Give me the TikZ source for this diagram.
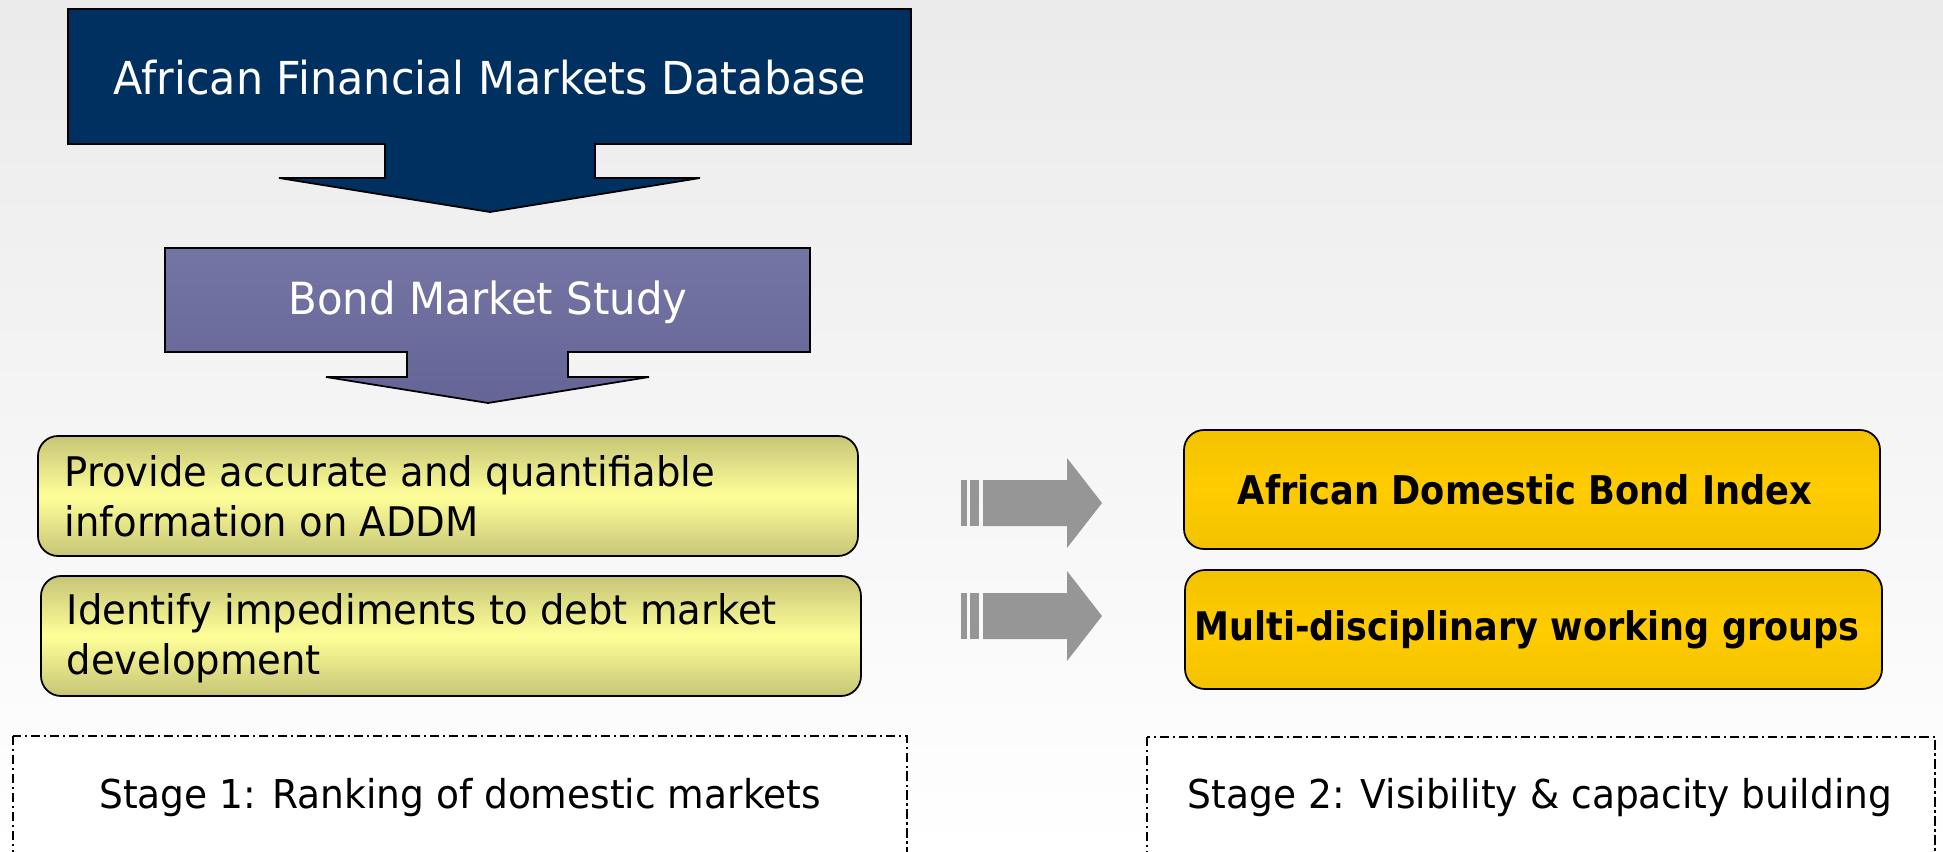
\documentclass[tikz,border=0pt]{standalone}
\usepackage{fontspec}
\setmainfont{DejaVu Sans}[FakeStretch=0.945]
\newfontfamily\indexfont{DejaVu Sans}[FakeStretch=0.89]
\usetikzlibrary{positioning}

\definecolor{navy}{HTML}{00305F}
\definecolor{studytop}{HTML}{7575A5}
\definecolor{studybot}{HTML}{646496}
\definecolor{paleedge}{HTML}{C6C577}
\definecolor{palemid}{HTML}{FFFF99}
\definecolor{goldedge}{HTML}{F3C200}
\definecolor{goldmid}{HTML}{FFCC00}
\definecolor{arrowgrey}{HTML}{969696}

\begin{document}
\begin{tikzpicture}[x=0.01cm,y=-0.01cm,
    outline/.style={draw=black,line width=0.5pt},
    stagebox/.style={line width=0.45pt,dash pattern=on 2.6pt off 1.1pt on 0.6pt off 1.1pt}]
  \useasboundingbox (0,0) rectangle (1943,852);
  \clip (0,0) rectangle (1943,852);

  % Backdrop
  \shade[top color=black!8,bottom color=white] (0,0) rectangle (1943,852);

  % Database callout
  \path[outline,fill=navy] (68,9) -- (911,9) -- (911,144) -- (595,144) -- (595,178)
    -- (700,178) -- (490,212) -- (279,178) -- (385,178) -- (385,144) -- (68,144) -- cycle;
  \node[text=white,font=\fontsize{12.9}{15}\selectfont] (database) at (490,78)
    {African Financial Markets Database};

  % Bond market study callout
  \path[outline,top color=studytop,bottom color=studybot] (165,248) -- (810,248) -- (810,352)
    -- (568,352) -- (568,377) -- (649,377) -- (488,403) -- (326,377) -- (407,377)
    -- (407,352) -- (165,352) -- cycle;
  \node[text=white,font=\fontsize{12.6}{15}\selectfont] (study) at (488,302)
    {Bond Market Study};

  % Stage 1 outputs
  \path[outline,rounded corners=0.2cm,top color=paleedge,bottom color=paleedge,
    middle color=palemid] (38,436) rectangle (858,556);
  \path[outline,rounded corners=0.2cm,top color=paleedge,bottom color=paleedge,
    middle color=palemid] (41,576) rectangle (861,696);
  \node[anchor=west,align=left,inner sep=0pt,font=\fontsize{11.6}{14.3}\selectfont]
    (accurate) at (64,496) {Provide accurate and quantifiable\\information on ADDM};
  \node[anchor=west,align=left,inner sep=0pt,font=\fontsize{11.6}{14.3}\selectfont]
    (impediments) at (66,638) {Identify impediments to debt market\\development};

  % Grey block arrows
  \foreach \dy in {0,113} {
    \fill[arrowgrey] (961,480+\dy) rectangle (967,526+\dy);
    \fill[arrowgrey] (970,480+\dy) rectangle (979,526+\dy);
    \fill[arrowgrey] (983,480+\dy) -- (1067,480+\dy) -- (1067,458+\dy) -- (1102,503+\dy)
      -- (1067,548+\dy) -- (1067,526+\dy) -- (983,526+\dy) -- cycle;
  }

  % Stage 2 outputs
  \path[outline,rounded corners=0.2cm,top color=goldedge,bottom color=goldedge,
    middle color=goldmid] (1184,430) rectangle (1880,549);
  \path[outline,rounded corners=0.2cm,top color=goldedge,bottom color=goldedge,
    middle color=goldmid] (1185,570) rectangle (1882,689);
  \node[font=\indexfont\bfseries\fontsize{11.25}{13}\selectfont] (index) at (1525,490)
    {African Domestic Bond Index};
  \node[font=\indexfont\bfseries\fontsize{11.2}{13}\selectfont] (groups) at (1527,630)
    {Multi-disciplinary working groups};

  % Stage labels
  \draw[stagebox,fill=white] (13,736) rectangle (907,900);
  \node[font=\fontsize{11.3}{13}\selectfont] (stage1) at (460,798)
    {Stage 1: Ranking of domestic markets};
  \draw[stagebox,fill=white] (1147,737) rectangle (1935,900);
  \node[font=\fontsize{11.3}{13}\selectfont] (stage2) at (1540,798)
    {Stage 2: Visibility \& capacity building};
\end{tikzpicture}
\end{document}
